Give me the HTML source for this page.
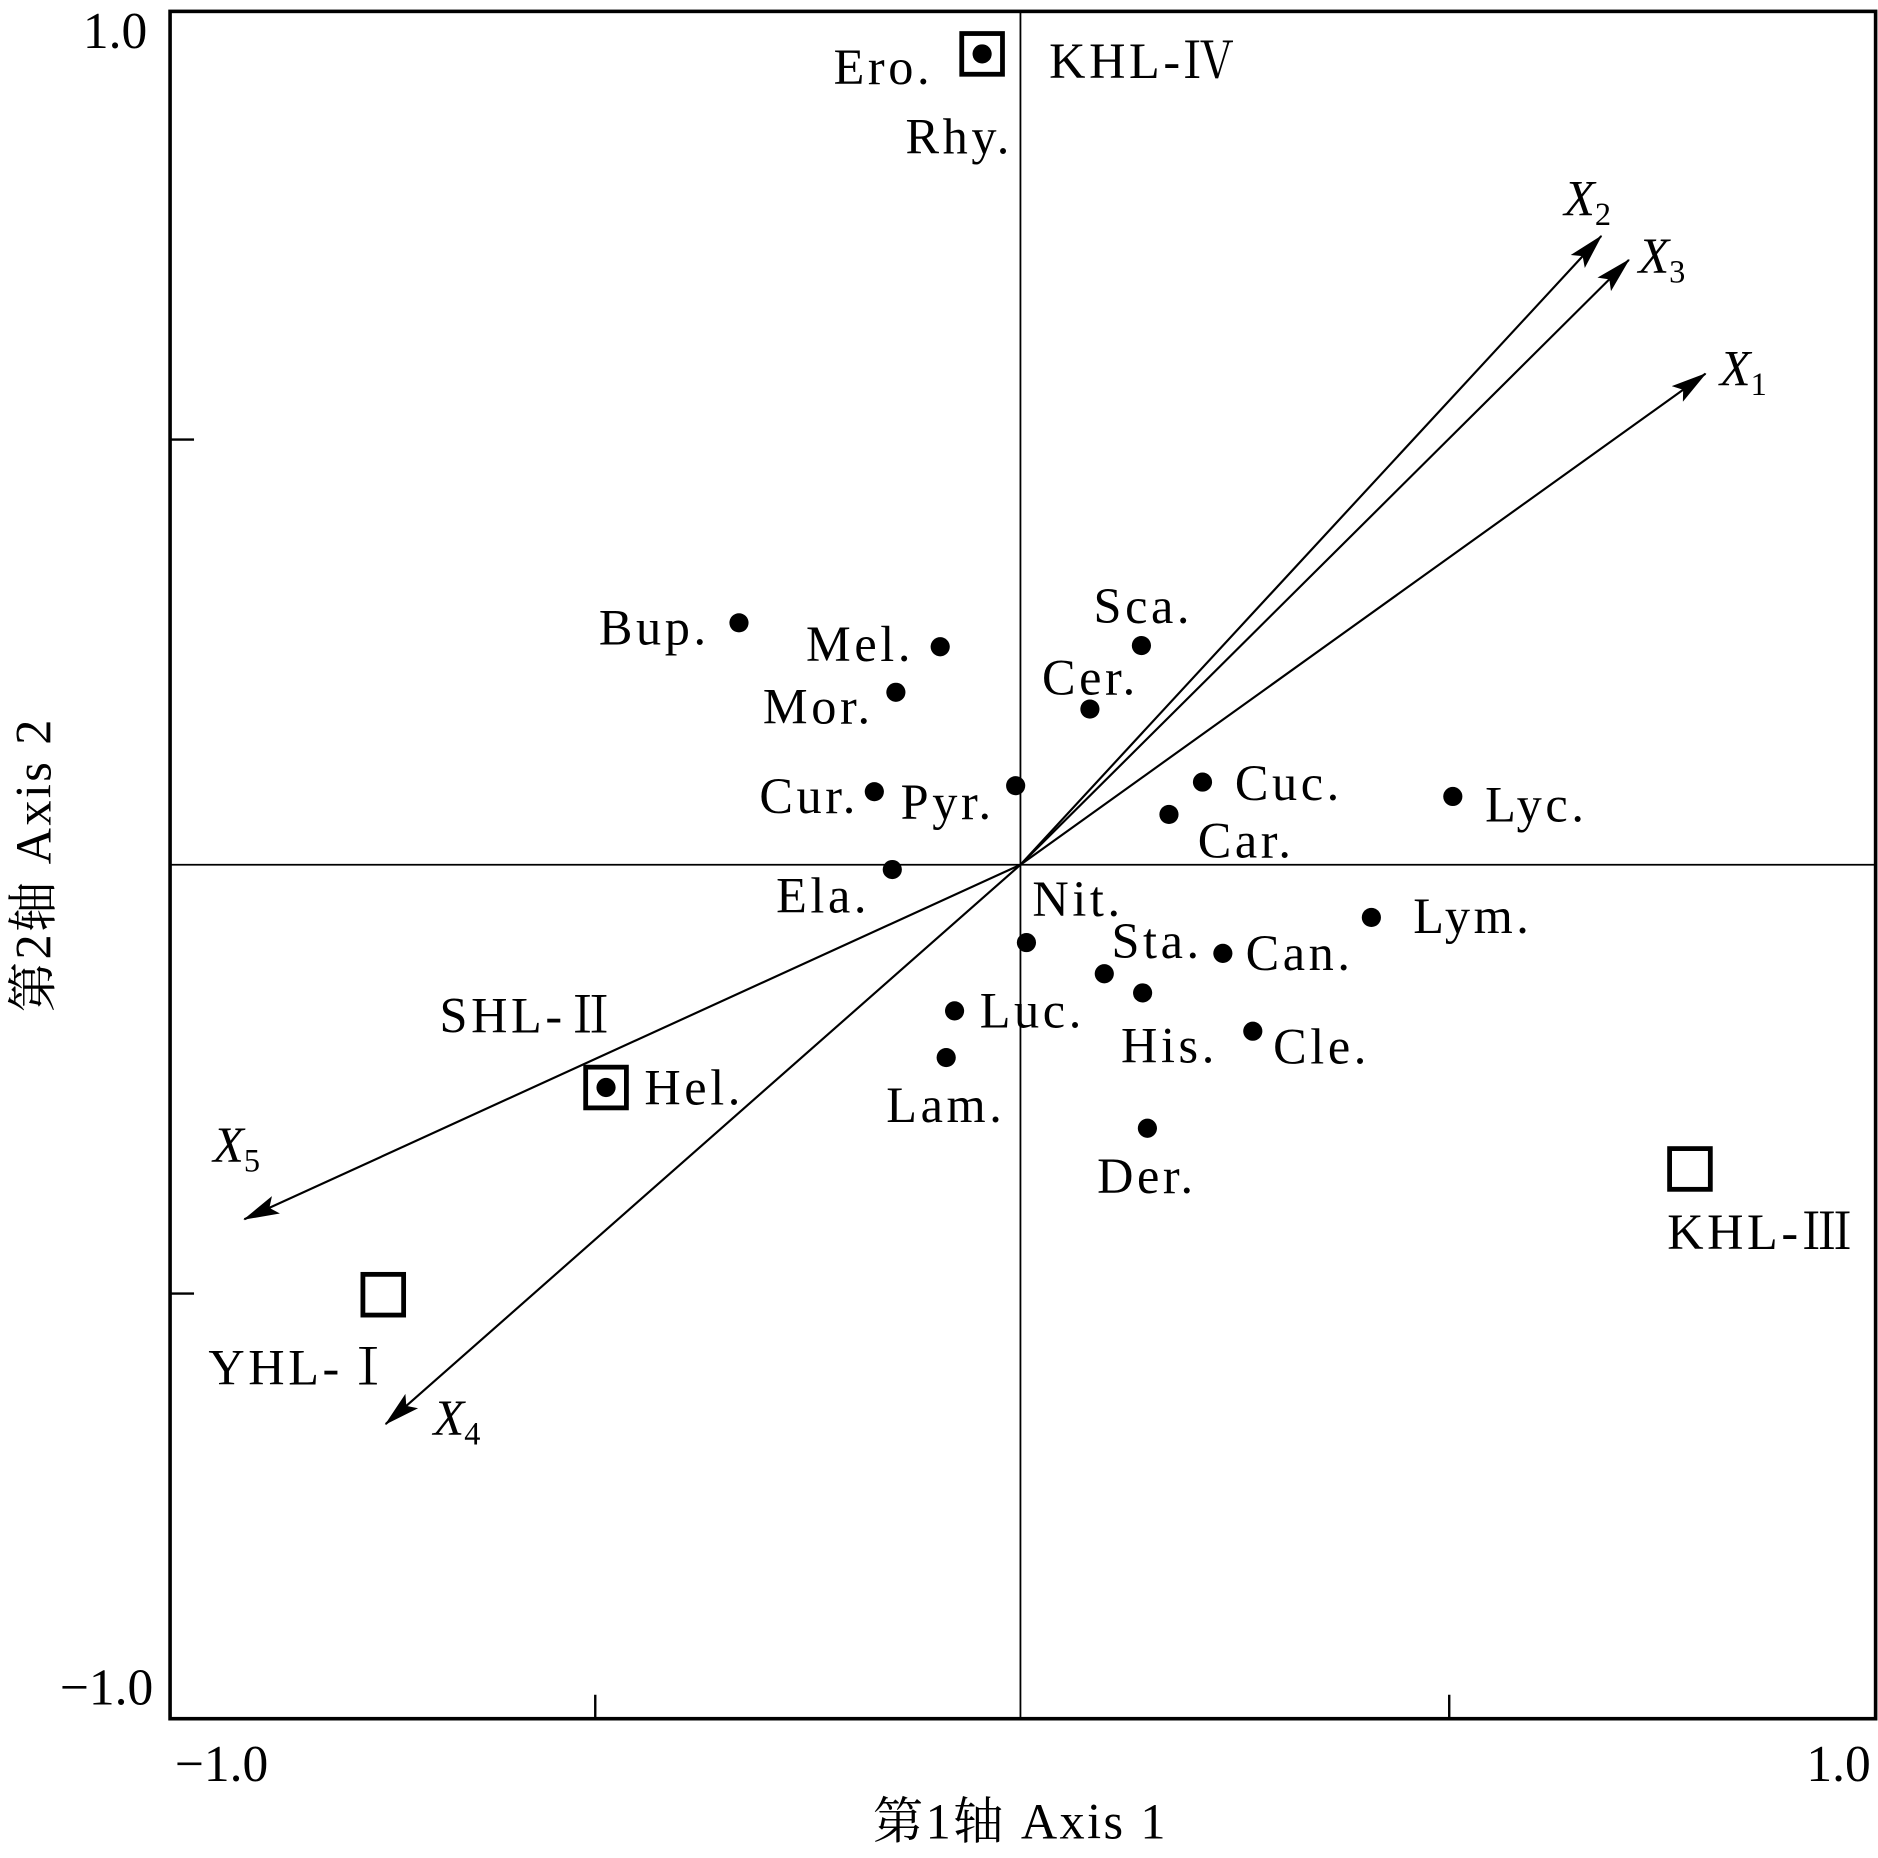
<!DOCTYPE html>
<html><head><meta charset="utf-8"><style>
html,body{margin:0;padding:0;background:#fff;}
svg{display:block;}
text{font-family:"Liberation Serif","Noto Serif CJK SC",serif;fill:#000;}
</style></head><body>
<svg width="1878" height="1858" viewBox="0 0 1568 1551.3" preserveAspectRatio="none" xmlns="http://www.w3.org/2000/svg">
<defs>
<marker id="a" viewBox="0 0 30 20" refX="29" refY="10" markerWidth="30" markerHeight="20" orient="auto" markerUnits="userSpaceOnUse"><path d="M0,2 L30,10 L0,18 L6,10 Z" fill="#000"/></marker></defs>
<rect x="142" y="9.5" width="1424" height="1425.5" fill="none" stroke="#000" stroke-width="3"/>
<line x1="852" y1="9" x2="852" y2="1435" stroke="#000" stroke-width="1.5"/>
<line x1="142" y1="722" x2="1566" y2="722" stroke="#000" stroke-width="1.5"/>
<g stroke="#000" stroke-width="2">
<line x1="142" y1="367" x2="162" y2="367"/><line x1="142" y1="1080" x2="162" y2="1080"/>
<line x1="497" y1="1435" x2="497" y2="1415"/><line x1="1210" y1="1435" x2="1210" y2="1415"/>
</g>
<g font-size="43">
<text x="123" y="40" text-anchor="end">1.0</text>
<text x="128" y="1423" text-anchor="end">−1.0</text>
<text x="185" y="1487" text-anchor="middle">−1.0</text>
<text x="1562" y="1487" text-anchor="end">1.0</text>
</g>
<text x="852" y="1535" font-size="42" letter-spacing="2" text-anchor="middle">第1轴 Axis 1</text>
<text transform="translate(42,722) rotate(-90)" font-size="42" letter-spacing="2" text-anchor="middle">第2轴 Axis 2</text>
<g stroke="#000" stroke-width="1.8" marker-end="url(#a)">
<line x1="852" y1="722" x2="1337" y2="197"/>
<line x1="852" y1="722" x2="1360" y2="217"/>
<line x1="852" y1="722" x2="1424" y2="312"/>
<line x1="852" y1="722" x2="204" y2="1018"/>
<line x1="852" y1="722" x2="322" y2="1189"/>
</g>
<g font-size="42" font-style="italic">
<text x="1306" y="180">X<tspan font-size="27" font-style="normal" dy="8">2</tspan></text>
<text x="1368" y="228">X<tspan font-size="27" font-style="normal" dy="8">3</tspan></text>
<text x="1436" y="322">X<tspan font-size="27" font-style="normal" dy="8">1</tspan></text>
<text x="178" y="970">X<tspan font-size="27" font-style="normal" dy="8">5</tspan></text>
<text x="362" y="1198">X<tspan font-size="27" font-style="normal" dy="8">4</tspan></text>
</g>
<g fill="none" stroke="#000" stroke-width="4">
<rect x="803" y="28" width="34" height="34"/>
<rect x="489" y="891" width="34" height="34"/>
<rect x="303" y="1064" width="34" height="34"/>
<rect x="1394" y="959" width="34" height="34"/>
</g>
<g fill="#000">
<circle cx="820" cy="45" r="8"/><circle cx="506" cy="908" r="8"/>
<circle cx="617" cy="520" r="8"/><circle cx="785" cy="540" r="8"/><circle cx="748" cy="578" r="8"/>
<circle cx="953" cy="539" r="8"/><circle cx="910" cy="592" r="8"/><circle cx="730" cy="661" r="8"/>
<circle cx="848" cy="656" r="8"/><circle cx="1004" cy="653" r="8"/><circle cx="976" cy="680" r="8"/>
<circle cx="1213" cy="665" r="8"/><circle cx="745" cy="726" r="8"/><circle cx="857" cy="787" r="8"/>
<circle cx="922" cy="813" r="8"/><circle cx="1021" cy="796" r="8"/><circle cx="1145" cy="766" r="8"/>
<circle cx="797" cy="844" r="8"/><circle cx="954" cy="829" r="8"/><circle cx="1046" cy="861" r="8"/>
<circle cx="790" cy="883" r="8"/><circle cx="958" cy="942" r="8"/>
</g>
<g font-size="42" letter-spacing="3">
<text x="696" y="70">Ero.</text><text x="876" y="65">KHL-Ⅳ</text><text x="756" y="128">Rhy.</text>
<text x="500" y="538">Bup.</text><text x="673" y="552">Mel.</text><text x="637" y="604">Mor.</text>
<text x="913" y="520">Sca.</text><text x="870" y="580">Cer.</text><text x="634" y="679">Cur.</text>
<text x="752" y="684">Pyr.</text><text x="1031" y="668">Cuc.</text><text x="1000" y="716">Car.</text>
<text x="1240" y="686">Lyc.</text><text x="648" y="762">Ela.</text><text x="862" y="765">Nit.</text>
<text x="928" y="800">Sta.</text><text x="1040" y="810">Can.</text><text x="1180" y="779">Lym.</text>
<text x="818" y="858">Luc.</text><text x="936" y="887">His.</text><text x="1063" y="888">Cle.</text>
<text x="740" y="937">Lam.</text><text x="916" y="996">Der.</text><text x="538" y="922">Hel.</text>
<text x="367" y="862">SHL-Ⅱ</text><text x="174" y="1156">YHL-Ⅰ</text><text x="1392" y="1043">KHL-Ⅲ</text>
</g>
</svg>
</body></html>
